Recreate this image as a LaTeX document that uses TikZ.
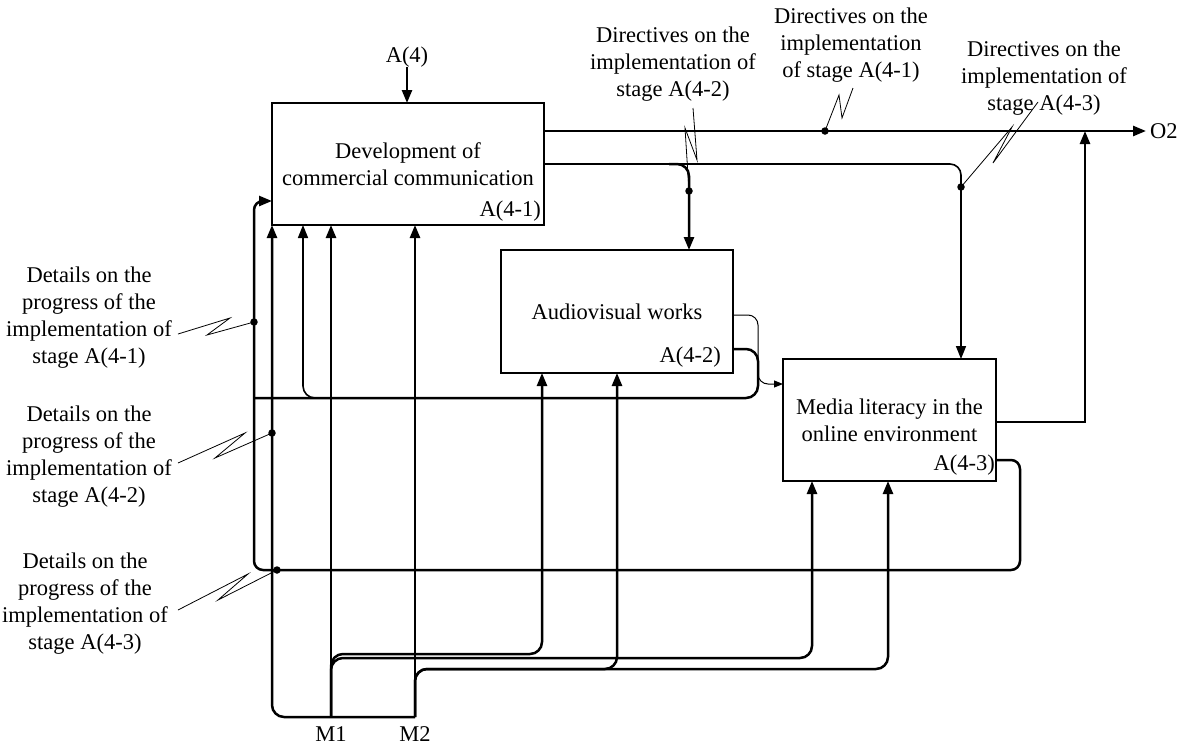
\documentclass[tikz,border=0pt]{standalone}
\usepackage{fontspec}
\setmainfont{Liberation Serif}
\usetikzlibrary{arrows.meta,calc}
\begin{document}
\begin{tikzpicture}[x=1pt,y=-1pt,
  font=\fontsize{22.5}{27}\selectfont,
  box/.style={draw,line width=1.2pt,inner sep=0pt,outer sep=0pt,align=center},
  lbl/.style={inner sep=0pt,align=center},
  thickline/.style={line width=2.5pt},
  midline/.style={line width=1.6pt},
  thinline/.style={line width=1pt},
  squig/.style={line width=0.8pt},
  tip/.style={-{Triangle[length=13pt,width=10pt]}},
  smalltip/.style={-{Triangle[length=9pt,width=7pt]}},
  dot/.style={circle,fill,inner sep=0pt,minimum size=7.5pt},
  ]
\useasboundingbox (0,0) rectangle (1187,745);

% activity boxes
\node[box,minimum width=272pt,minimum height=122pt] (b1) at (408,164) {Development of\\commercial communication};
\node[box,minimum width=232pt,minimum height=123pt] (b2) at (617,311.5) {Audiovisual works};
\node[box,minimum width=213pt,minimum height=122pt] (b3) at (889.5,420) {Media literacy in the\\online environment};

% box numbers
\node[lbl,anchor=east] (n1) at (541,211) {A(4-1)};
\node[lbl,anchor=east] (n2) at (721,357) {A(4-2)};
\node[lbl,anchor=east] (n3) at (995,465) {A(4-3)};

% boundary labels
\node[lbl] (a4) at (407,57) {A(4)};
\node[lbl,anchor=west] (o2) at (1150,131) {O2};
\node[lbl] (m1) at (331,734) {M1};
\node[lbl] (m2) at (415,734) {M2};
\coordinate (m1b) at (331,717);
\coordinate (m2b) at (415,717);
\coordinate (oj) at (1085,131);
\coordinate (j3) at ($(b3.north west)+(178,0)$);

% control from above and main output
\draw[thickline,tip] (a4.south) -- (a4.south |- b1.north);
\draw[thickline,tip,shorten >=4pt] ($(b1.north east)+(0,28)$) -- (o2.west);

% directives from A(4-1) to the other stages
\draw[midline,tip,rounded corners=11pt] (b1.east) -| (j3);
\draw[thickline,tip,rounded corners=12pt] ($(b1.east)+(125,0)$) -| ($(b2.north)+(72,0)$);

% outputs of A(4-2)
\draw[thinline,smalltip,rounded corners=10pt] ($(b2.east)+(0,3.5)$) -- ++(25,0) |- ($(b3.west)+(0,-36)$);
\draw[thickline,rounded corners=12pt] ($(b2.east)+(0,37.5)$) -- ++(25,0) |- (254,398);
\draw[midline,tip,rounded corners=12pt] (330,398) -| ($(b1.south west)+(31,0)$);

% outputs of A(4-3)
\draw[thickline,tip] ($(b3.east)+(0,2)$) -| (oj);
\draw[thickline,tip,rounded corners=9pt] ($(b3.east)+(0,40)$) -- ++(24,0) |- (254,570) |- ($(b1.south west)+(0,-24)$);

% mechanisms M1 and M2
\draw[thickline,tip] (m1b) -- (m1b |- b1.south);
\draw[thickline,tip] (m2b) -- (m2b |- b1.south);
\draw[thickline,tip,rounded corners=12pt] (m2b) -| (b1.south west);
\draw[thickline,tip,rounded corners=12pt] (m1b) |- (542,654) -- ($(b2.south west)+(41,0)$);
\draw[thickline,tip,rounded corners=12pt] (m1b) |- (812,658) -- ($(b3.south west)+(29,0)$);
\draw[thickline,tip,rounded corners=12pt] (m2b) |- (617,669) -- ($(b2.south west)+(116,0)$);
\draw[thickline,tip,rounded corners=12pt] (m2b) |- (888,669) -- ($(b3.south west)+(105,0)$);

% junction dots
\node[dot] (d1) at (254,322) {};
\node[dot] (d2) at (272,433) {};
\node[dot] (d3) at (277,570) {};
\node[dot] (d4) at (689,191) {};
\node[dot] (d5) at (825,131) {};
\node[dot] (d6) at (961,187) {};

% arrow labels
\node[lbl] (t1) at (89,318) {Details on the\\progress of the\\implementation of\\stage A(4-1)};
\node[lbl] (t2) at (89,457) {Details on the\\progress of the\\implementation of\\stage A(4-2)};
\node[lbl] (t3) at (85,604) {Details on the\\progress of the\\implementation of\\stage A(4-3)};
\node[lbl] (t4) at (673,64) {Directives on the\\implementation of\\stage A(4-2)};
\node[lbl] (t5) at (851,45) {Directives on the\\implementation\\of stage A(4-1)};
\node[lbl] (t6) at (1044,78) {Directives on the\\implementation of\\stage A(4-3)};

% squiggles tying labels to arrows
\draw[squig] (178,334) -- (230,318) -- (207,335) -- (d1.center);
\draw[squig] (178,463) -- (245,433) -- (215,458) -- (d2.center);
\draw[squig] (178,610) -- (248,574) -- (218,600) -- (d3.center);
\draw[squig] (693,108) -- (697,160) -- (685,128) -- (d4.center);
\draw[squig] (853,88) -- (842,118) -- (839,95) -- (d5.center);
\draw[squig] (1038,102) -- (993,163) -- (1012,127) -- (d6.center);
\end{tikzpicture}
\end{document}
